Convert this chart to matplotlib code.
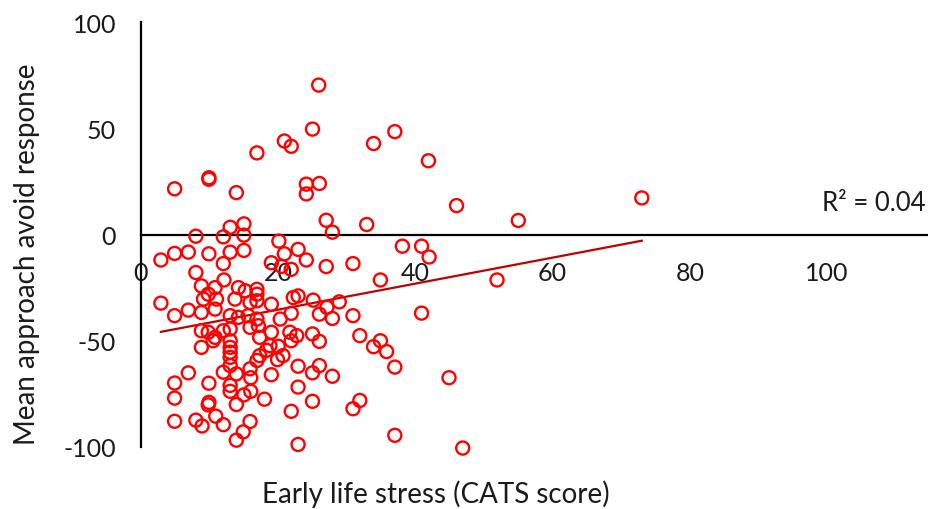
import matplotlib
matplotlib.use('Agg')
import matplotlib.pyplot as plt
import numpy as np

# data (CATS score vs mean approach-avoid response)
cats = [25.9, 25.0, 20.9, 21.9, 16.9, 33.9, 37.0, 41.9, 4.9, 9.9, 9.9, 13.9, 24.1, 26.0, 24.1,
        46.0, 55.0, 73.0, 27.0, 27.9, 32.9, 13.0, 15.0, 8.0, 12.0, 15.0, 20.1, 38.1, 40.9, 42.0,
        2.9, 4.9, 6.9, 9.9, 13.0, 15.0, 12.0, 20.9, 22.9, 24.1, 19.0, 20.5, 21.9, 27.0, 30.9,
        8.0, 12.1, 34.9, 51.9,
        8.8, 10.8, 9.8, 9.1, 11.0, 14.2, 15.2, 16.9, 16.9, 16.9, 13.7, 15.9, 19.0, 22.2,
        2.9, 4.9, 6.9, 8.8, 10.8, 13.0, 14.2, 15.6, 16.9, 20.3, 22.9, 25.1, 28.9, 27.1, 26.0,
        27.9, 30.9, 40.9, 21.9,
        8.8, 9.8, 10.8, 12.0, 13.0, 15.9, 17.1, 19.0, 17.3, 18.8, 21.7, 22.7, 25.0, 21.9, 26.0,
        20.0, 8.8, 10.5, 13.0, 13.0, 13.0, 13.0, 13.0, 17.3, 18.3, 20.7, 16.9, 15.9, 19.9,
        31.9, 34.9, 33.9, 35.8, 37.0, 44.9, 22.9, 26.0, 25.0, 27.9, 22.9, 25.0, 31.9, 30.9,
        21.9, 37.0, 22.9, 46.9, 19.0, 18.0, 16.0, 16.0, 15.0, 13.9, 12.0, 13.0, 13.0, 13.9,
        15.9, 14.9, 13.9, 12.0, 10.9, 8.9, 8.0, 4.9, 4.9, 4.9, 6.9, 9.9, 9.9, 9.8]
response = [70.3, 49.6, 44.0, 41.5, 38.4, 42.8, 48.4, 34.7, 21.5, 26.7, 26.0, 19.7, 23.7, 24.0, 19.1,
            13.6, 6.6, 17.2, 6.7, 1.1, 4.7, 3.4, 5.0, -0.8, -1.1, -0.3, -3.1, -5.5, -5.5, -10.6,
            -12.0, -8.9, -8.3, -9.1, -8.3, -7.5, -13.7, -9.1, -7.0, -12.0, -13.3, -15.0, -16.4, -15.1, -13.7,
            -17.9, -21.4, -21.4, -21.4,
            -24.2, -25.0, -28.1, -30.4, -30.4, -25.0, -26.5, -25.8, -28.1, -31.2, -30.4, -32.0, -32.8, -29.7,
            -32.3, -38.2, -35.6, -36.7, -35.1, -38.2, -39.0, -38.2, -39.8, -39.8, -28.9, -30.9, -31.7, -34.3, -37.5,
            -39.5, -38.2, -37.0, -37.1,
            -45.3, -46.0, -48.4, -45.3, -44.5, -43.7, -42.9, -46.0, -48.4, -52.3, -46.0, -47.6, -46.8, -50.0, -50.3,
            -52.6, -53.1, -50.0, -50.0, -53.1, -55.4, -57.8, -61.7, -57.0, -54.5, -57.0, -59.3, -63.2, -58.9,
            -47.6, -50.0, -52.8, -55.1, -62.4, -67.4, -62.0, -61.7, -65.1, -66.7, -71.8, -78.5, -78.1, -82.0,
            -83.2, -94.5, -98.8, -100.5, -66.0, -77.5, -67.4, -73.8, -75.5, -65.6, -64.8, -71.0, -73.8, -80.0,
            -88.0, -92.9, -96.8, -89.5, -85.5, -90.1, -87.4, -87.9, -77.0, -69.9, -65.1, -70.0, -79.0, -80.2]

x_ticks = [0, 20, 40, 60, 80, 100]
y_ticks = [-100, -50, 0, 50, 100]

plt.rcParams['font.family'] = ['Lato', 'DejaVu Sans']
plt.rcParams['axes.unicode_minus'] = False
txt = '#1a1a1a'

fig = plt.figure(figsize=(9.29, 5.10), dpi=100)
ax = fig.add_axes([141/929, 62/510, 788/929, 425/510])

x = np.array(cats)
y = np.array(response)
ax.scatter(x, y, s=88, facecolors='none', edgecolors='#FF0000', linewidths=1.7, zorder=3, clip_on=False)

# linear trendline, like excel
m, c = np.polyfit(x, y, 1)
xl = np.array([x.min(), x.max()])
ax.plot(xl, m*xl + c, color='#C00000', lw=1.6, zorder=2)

ax.set_xlim(0, 788/6.86)
ax.set_ylim(-100, 100)
ax.set_xticks(x_ticks)
ax.set_yticks(y_ticks)

for s in ['top', 'right']:
    ax.spines[s].set_visible(False)
ax.spines['bottom'].set_position(('data', 0))
ax.spines['bottom'].set_linewidth(1.6)
ax.spines['left'].set_linewidth(1.6)
ax.tick_params(axis='both', length=0, labelsize=18, labelcolor=txt)
ax.tick_params(axis='x', pad=19)
ax.tick_params(axis='y', pad=18)

ax.text(0.995, 0.575, 'R² = 0.04', transform=ax.transAxes, ha='right', va='center', fontsize=18.5, color=txt)

fig.text(436/929, 16/510, 'Early life stress (CATS score)', ha='center', va='center', fontsize=20, color=txt)
fig.text(27/929, 256/510, 'Mean approach avoid response', ha='center', va='center', rotation=90,
         fontsize=20, color=txt)

plt.savefig('out.png', dpi=100)
